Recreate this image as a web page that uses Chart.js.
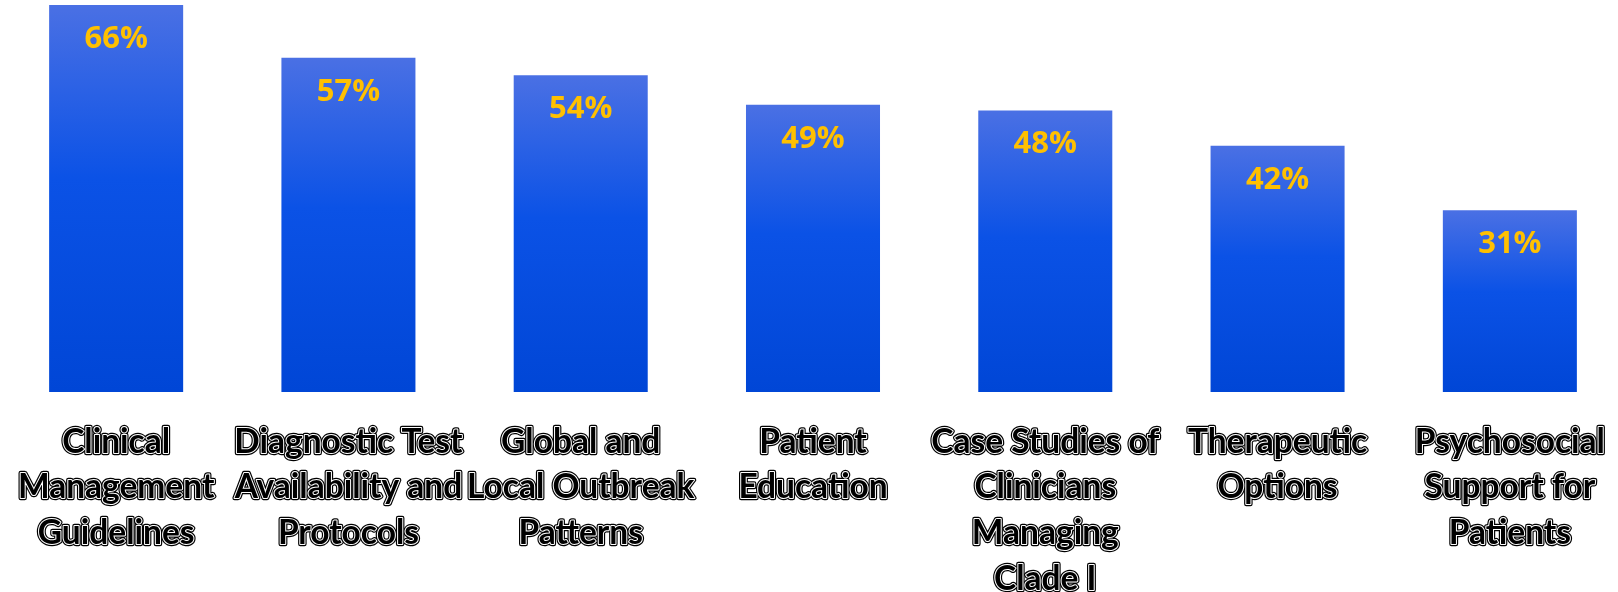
<!DOCTYPE html>
<html>
<head>
<meta charset="utf-8">
<script src="https://cdn.jsdelivr.net/npm/chart.js@4.4.1/dist/chart.umd.min.js"></script>
<style>
  html, body { margin: 0; padding: 0; background: #fff; overflow: hidden; }
  #wrap { width: 1626px; height: 592px; position: relative; }
</style>
</head>
<body>
<div id="wrap"><canvas id="chart"></canvas></div>
<script>
// data
var categories = [
  ["Clinical", "Management", "Guidelines"],
  ["Diagnostic Test", "Availability and", "Protocols"],
  ["Global and", "Local Outbreak", "Patterns"],
  ["Patient", "Education"],
  ["Case Studies of", "Clinicians", "Managing", "Clade I"],
  ["Therapeutic", "Options"],
  ["Psychosocial", "Support for", "Patients"]
];
var values = [66, 57, 54, 49, 48, 42, 31];

// bar gradient, lighter at each bar's top
function barGradient(context) {
  var chart = context.chart;
  if (!chart.chartArea) return '#0a4fe0';
  var y = chart.scales.y;
  var top = y.getPixelForValue(context.raw);
  var bottom = y.getPixelForValue(0);
  var g = chart.ctx.createLinearGradient(0, top, 0, bottom);
  g.addColorStop(0, '#4a70e4');
  g.addColorStop(0.45, '#0b52e6');
  g.addColorStop(1, '#0046d6');
  return g;
}

// value labels inside bars + outlined category labels under them
var labelPlugin = {
  id: 'labels',
  afterDatasetsDraw: function(chart) {
    var ctx = chart.ctx;
    var meta = chart.getDatasetMeta(0);
    var x = chart.scales.x;
    ctx.save();
    ctx.textAlign = 'center';
    ctx.textBaseline = 'middle';
    ctx.font = 'bold 31px "Open Sans", sans-serif';
    ctx.fillStyle = '#ffc000';
    meta.data.forEach(function(bar, i) {
      ctx.fillText(values[i] + '%', bar.x, bar.y + 34);
    });

    ctx.font = 'bold 33.5px Lato, sans-serif';
    ctx.lineJoin = 'round';
    categories.forEach(function(lines, i) {
      var cx = x.getPixelForValue(i);
      lines.forEach(function(line, j) {
        var cy = 442 + j * 45.7;
        ctx.strokeStyle = '#000';
        ctx.lineWidth = 4.4;
        ctx.strokeText(line, cx, cy);
        ctx.strokeStyle = '#fff';
        ctx.lineWidth = 2;
        ctx.strokeText(line, cx, cy);
        ctx.fillStyle = '#000';
        ctx.fillText(line, cx, cy);
      });
    });
    ctx.restore();
  }
};

var chart = new Chart(document.getElementById('chart'), {
  type: 'bar',
  data: {
    labels: categories,
    datasets: [{
      data: values,
      backgroundColor: barGradient,
      borderWidth: 0,
      barPercentage: 0.577,
      categoryPercentage: 1
    }]
  },
  options: {
    responsive: true,
    maintainAspectRatio: false,
    animation: false,
    layout: { padding: { top: 5, bottom: 200, left: 0, right: 0 } },
    plugins: { legend: { display: false }, tooltip: { enabled: false } },
    scales: {
      x: { display: false, grid: { display: false } },
      y: { display: false, min: 0, max: 66 }
    }
  },
  plugins: [labelPlugin]
});
</script>
</body>
</html>
